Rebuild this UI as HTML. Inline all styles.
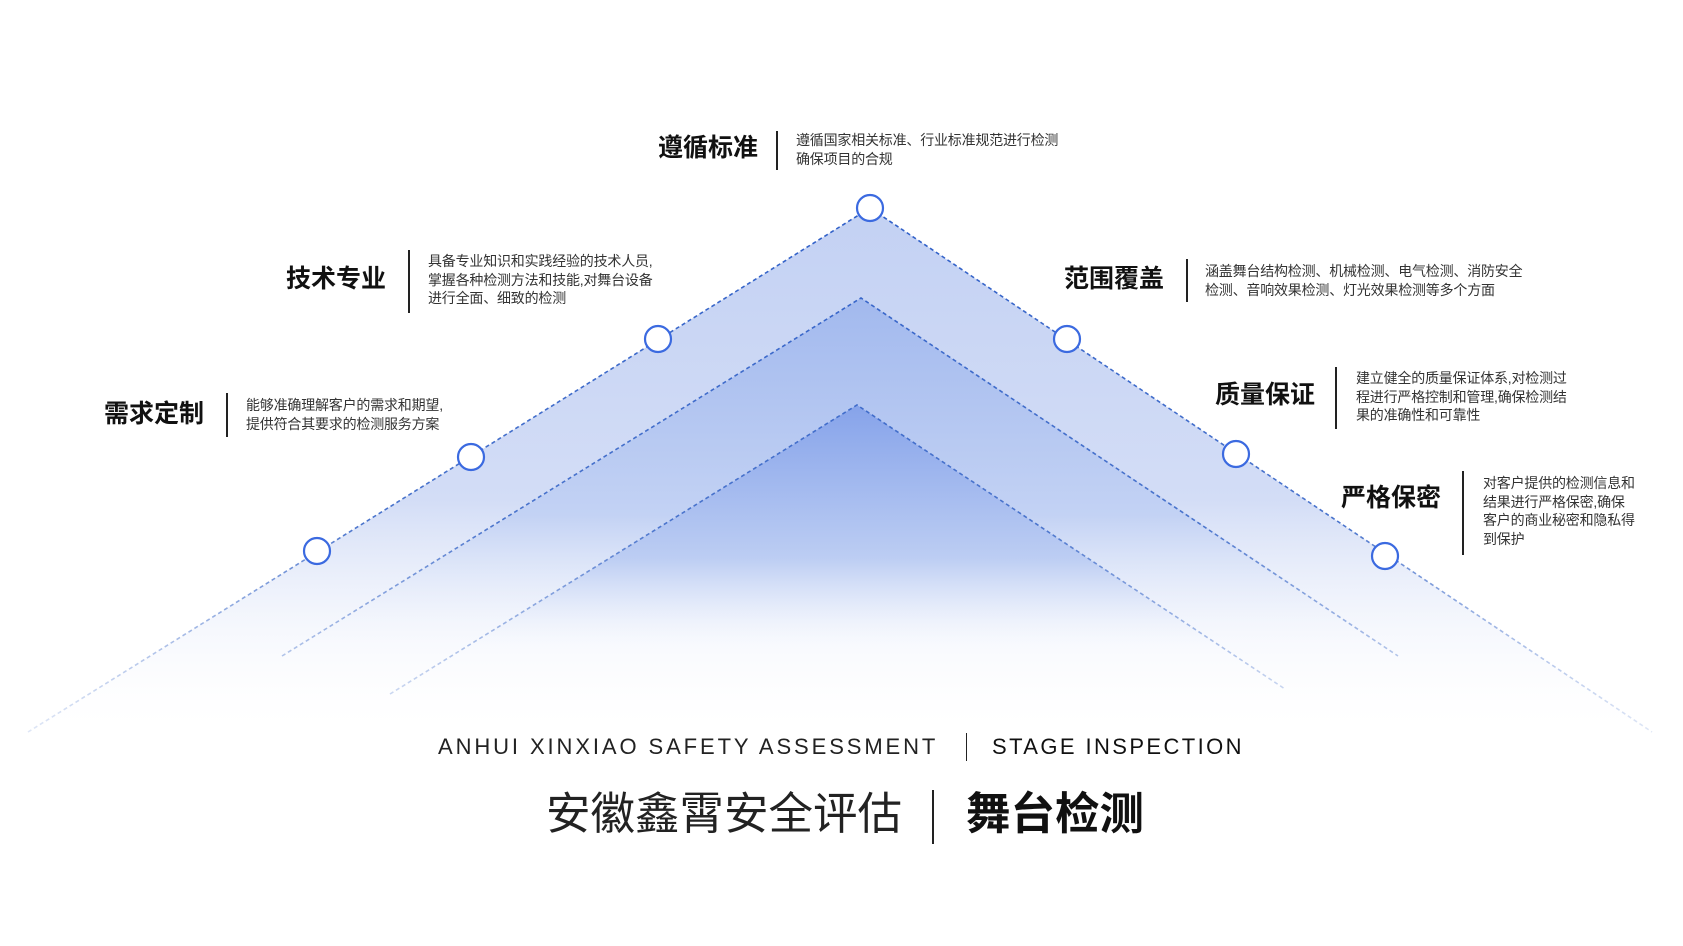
<!DOCTYPE html>
<html><head><meta charset="utf-8"><style>
html,body{margin:0;padding:0;background:#fff;}
.w{position:relative;width:1683px;height:946px;overflow:hidden;font-family:"Liberation Sans","Noto Sans CJK SC",sans-serif;color:#111;}
svg{position:absolute;left:0;top:0}
.t{position:absolute;font-weight:bold;font-size:25px;line-height:30px;white-space:nowrap;text-align:right}
.d{position:absolute;font-size:14px;line-height:18.5px;color:#333;white-space:nowrap;letter-spacing:-0.2px}
.l{position:absolute;width:1.5px;background:#222}
</style></head><body><div class="w">
<svg width="1683" height="946" viewBox="0 0 1683 946">
<defs>
<linearGradient id="g1" x1="0" y1="208" x2="0" y2="740" gradientUnits="userSpaceOnUse">
<stop offset="0" stop-color="#c3d1f3"/><stop offset="0.55" stop-color="#d3ddf6"/><stop offset="1" stop-color="#fff" stop-opacity="0"/></linearGradient>
<linearGradient id="g2" x1="0" y1="298" x2="0" y2="660" gradientUnits="userSpaceOnUse">
<stop offset="0" stop-color="#a2b9ee"/><stop offset="0.6" stop-color="#c3d2f4"/><stop offset="1" stop-color="#fff" stop-opacity="0"/></linearGradient>
<linearGradient id="g3" x1="0" y1="405" x2="0" y2="660" gradientUnits="userSpaceOnUse">
<stop offset="0" stop-color="#86a3ea"/><stop offset="0.6" stop-color="#bccdf3"/><stop offset="1" stop-color="#fff" stop-opacity="0"/></linearGradient>
<linearGradient id="s" x1="0" y1="200" x2="0" y2="740" gradientUnits="userSpaceOnUse">
<stop offset="0" stop-color="#2f5fc8"/><stop offset="0.6" stop-color="#4a74cc"/><stop offset="1" stop-color="#9fb6e4" stop-opacity="0.3"/></linearGradient>
</defs>
<polygon points="870,208 28,732 1652,732" fill="url(#g1)"/>
<polygon points="861,298 256,673 1426,673" fill="url(#g2)"/>
<polygon points="857,405 376,703 1306,703" fill="url(#g3)"/>
<g fill="none" stroke="url(#s)" stroke-width="1.6" stroke-dasharray="4 3">
<polyline points="28,732 870,208 1652,732"/>
<polyline points="282,656 861,298 1398,656"/>
<polyline points="390,694 857,405 1285,689"/>
</g>
<g fill="#fff" stroke="#3b6ae0" stroke-width="2.2">
<circle cx="870" cy="208" r="13"/>
<circle cx="658" cy="339" r="13"/>
<circle cx="471" cy="457" r="13"/>
<circle cx="317" cy="551" r="13"/>
<circle cx="1067" cy="339" r="13"/>
<circle cx="1236" cy="454" r="13"/>
<circle cx="1385" cy="556" r="13"/>
</g>
</svg>

<div class="t" style="right:925px;top:133px">遵循标准</div>
<div class="l" style="left:776px;top:131px;height:39px"></div>
<div class="d" style="left:796px;top:131px">遵循国家相关标准、行业标准规范进行检测<br>确保项目的合规</div>

<div class="t" style="right:1297px;top:264px">技术专业</div>
<div class="l" style="left:408px;top:250px;height:63px"></div>
<div class="d" style="left:428px;top:252px">具备专业知识和实践经验的技术人员,<br>掌握各种检测方法和技能,对舞台设备<br>进行全面、细致的检测</div>

<div class="t" style="right:1479px;top:399px">需求定制</div>
<div class="l" style="left:226px;top:393px;height:44px"></div>
<div class="d" style="left:246px;top:396px">能够准确理解客户的需求和期望,<br>提供符合其要求的检测服务方案</div>

<div class="t" style="right:519px;top:264px">范围覆盖</div>
<div class="l" style="left:1186px;top:259px;height:43px"></div>
<div class="d" style="left:1205px;top:262px">涵盖舞台结构检测、机械检测、电气检测、消防安全<br>检测、音响效果检测、灯光效果检测等多个方面</div>

<div class="t" style="right:368px;top:380px">质量保证</div>
<div class="l" style="left:1335px;top:367px;height:62px"></div>
<div class="d" style="left:1356px;top:369px">建立健全的质量保证体系,对检测过<br>程进行严格控制和管理,确保检测结<br>果的准确性和可靠性</div>

<div class="t" style="right:242px;top:483px">严格保密</div>
<div class="l" style="left:1462px;top:471px;height:84px"></div>
<div class="d" style="left:1483px;top:474px">对客户提供的检测信息和<br>结果进行严格保密,确保<br>客户的商业秘密和隐私得<br>到保护</div>

<div style="position:absolute;left:438px;top:734px;font-size:22px;letter-spacing:2.9px;color:#222;white-space:nowrap">ANHUI XINXIAO SAFETY ASSESSMENT</div>
<div class="l" style="left:966px;top:733px;height:28px;width:1.3px"></div>
<div style="position:absolute;left:992px;top:734px;font-size:22px;letter-spacing:2.4px;color:#111;white-space:nowrap">STAGE INSPECTION</div>

<div style="position:absolute;left:546px;top:789px;font-size:44.5px;line-height:52px;color:#222;white-space:nowrap">安徽鑫霄安全评估</div>
<div class="l" style="left:932px;top:790px;height:54px;width:2px"></div>
<div style="position:absolute;left:966px;top:789px;font-size:44.5px;line-height:52px;font-weight:bold;color:#111;white-space:nowrap">舞台检测</div>
</div></body></html>
